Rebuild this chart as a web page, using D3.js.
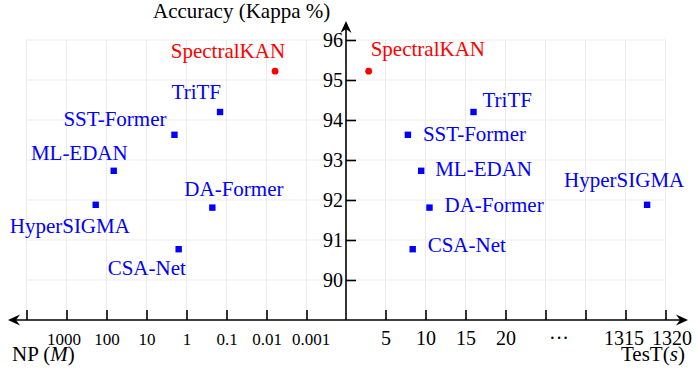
<!DOCTYPE html>
<html>
<head>
<meta charset="utf-8">
<script src="https://cdn.jsdelivr.net/npm/d3@7"></script>
<style>
  body { margin: 0; background: #fff; }
  svg { display: block; font-family: "Liberation Serif", "Times New Roman", serif; }
</style>
</head>
<body>
<div id="chart"></div>
<script>
// data
const models = ["SpectralKAN", "TriTF", "SST-Former", "ML-EDAN", "HyperSIGMA", "DA-Former", "CSA-Net"]
const kappa = [95.22, 94.2, 93.63, 92.73, 91.88, 91.81, 90.77]
const params = [0.0061, 0.145, 2.0, 66, 186, 0.226, 1.57]      // NP (M), log scale
const testTime = [2.9, 16.0, 7.8, 9.46, 1317.7, 10.5, 8.4]       // TesT (s), broken axis
const yTicks = [90, 91, 92, 93, 94, 95, 96]
const npTicks = [10000, 1000, 100, 10, 1, 0.1, 0.01, 0.001]
const npLabels = ["", "1000", "100", "10", "1", "0.1", "0.01", "0.001"]
const ttTicks = [5, 10, 15, 20, 25, 1310, 1315, 1320]
const ttLabels = ["5", "10", "15", "20", "\u00b7\u00b7\u00b7", "", "1315", "1320"]

// label placement next to each point: [dx, dy, anchor]
const leftLab = {
    "SpectralKAN": [10, -13, "end"], "TriTF": [1, -13, "end"], "SST-Former": [-8, -9, "end"],
    "ML-EDAN": [14, -11, "end"], "HyperSIGMA": [-86, 28, "start"], "DA-Former": [-28, -12, "start"],
    "CSA-Net": [-71, 26, "start"]
}
const rightLab = {
    "SpectralKAN": [2, -15, "start"], "TriTF": [9, -5, "start"], "SST-Former": [15, 6, "start"],
    "ML-EDAN": [14, 5, "start"], "HyperSIGMA": [-83, -18, "start"], "DA-Former": [15, 4, "start"],
    "CSA-Net": [15, 3, "start"]
}

const width = 698, height = 375
const serif = "'Liberation Serif', 'Times New Roman', serif"
const svg = d3.select("#chart").append("svg")
    .attr("width", width)
    .attr("height", height)

const y = d3.scaleLinear().domain([89, 96]).range([320, 40])
const xl = d3.scaleLog().domain([10000, 0.0001]).range([26.5, 346.5])
const xr = d3.scaleLinear().domain([0, 25, 1310, 1320]).range([345.5, 545.5, 585.5, 665.5])
const x0 = 346

// grid
const grid = svg.append("g").attr("stroke", "#ebebeb").attr("stroke-width", 1)
grid.selectAll(".hg").data(yTicks).enter().append("line")
    .attr("x1", xl(10000)).attr("x2", xr(1320))
    .attr("y1", d => y(d)).attr("y2", d => y(d))
grid.selectAll(".vl").data(npTicks).enter().append("line")
    .attr("x1", d => xl(d)).attr("x2", d => xl(d))
    .attr("y1", y(96)).attr("y2", y(89))
grid.selectAll(".vr").data(ttTicks).enter().append("line")
    .attr("x1", d => xr(d)).attr("x2", d => xr(d))
    .attr("y1", y(96)).attr("y2", y(89))

// axes
const yAxis = d3.axisLeft(y).tickValues(yTicks).tickSize(-10).tickPadding(3).tickFormat(d3.format("d"))
const gy = svg.append("g").attr("transform", `translate(${x0},0)`).call(yAxis)
gy.select(".domain").remove()
gy.attr("font-family", serif).attr("font-size", 20)
gy.selectAll("text").attr("fill", "#000")

const lAxis = d3.axisBottom(xl).tickValues(npTicks).tickSize(-10)
    .tickFormat((d, i) => npLabels[i])
const gl = svg.append("g").attr("transform", `translate(0,${y(89)})`).call(lAxis)
gl.select(".domain").remove()
gl.attr("font-family", serif).attr("font-size", 17)
gl.selectAll("text").attr("y", 25).attr("dy", 0).attr("fill", "#000")
gl.selectAll("text").filter(d => d === 1000).attr("dx", -3)
gl.selectAll("text").filter(d => d === 0.001).attr("dx", 4)

const rAxis = d3.axisBottom(xr).tickValues(ttTicks).tickSize(-10)
    .tickFormat((d, i) => ttLabels[i])
const gr = svg.append("g").attr("transform", `translate(0,${y(89)})`).call(rAxis)
gr.select(".domain").remove()
gr.attr("font-family", serif).attr("font-size", 20)
gr.selectAll("text").attr("y", 25).attr("dy", 0).attr("fill", "#000")
gr.selectAll("text").filter(d => d === 25).attr("dx", 13)
gr.selectAll("text").filter(d => d === 1320).attr("dx", 6)
gr.selectAll("text").filter(d => d === 1315).attr("dx", -2)

// drop empty tick labels
svg.selectAll(".tick text").filter(function () { return this.textContent === "" }).remove()
svg.selectAll(".tick line").attr("stroke", "#000").attr("stroke-width", 1.6)

// axis lines with arrow heads
const axisLine = svg.append("g").attr("stroke", "#000").attr("stroke-width", 1.6)
axisLine.append("line").attr("x1", 10).attr("x2", 685).attr("y1", y(89)).attr("y2", y(89))
axisLine.append("line").attr("x1", x0).attr("x2", x0).attr("y1", y(89)).attr("y2", 25)
const arrow = "M0,0 L-12,-5.5 L-8,0 L-12,5.5 Z"
svg.append("path").attr("d", arrow).attr("transform", `translate(8,${y(89)}) rotate(180)`)
svg.append("path").attr("d", arrow).attr("transform", `translate(688,${y(89)})`)
svg.append("path").attr("d", arrow).attr("transform", `translate(${x0},21) rotate(-90)`)

// axis titles
svg.append("text").attr("x", 153).attr("y", 18).style("font-size", "21px").text("Accuracy (Kappa %)")
svg.append("text").attr("x", 12).attr("y", 361).style("font-size", "21px")
    .html("NP (<tspan font-style='italic'>M</tspan>)")
svg.append("text").attr("x", 621).attr("y", 361).style("font-size", "21px")
    .html("TesT(<tspan font-style='italic'>s</tspan>)")

// points
const rows = models.map((m, i) => ({ name: m, k: kappa[i], np: params[i], t: testTime[i] }))
const colorOf = d => d.name === "SpectralKAN" ? "#ff0000" : "#0000ff"

function drawPanel(xs, key, lab) {
    const g = svg.append("g")
    g.selectAll("rect").data(rows.filter(d => d.name !== "SpectralKAN")).enter().append("rect")
        .attr("x", d => xs(d[key]) - 3.2).attr("y", d => y(d.k) - 3.2)
        .attr("width", 6.4).attr("height", 6.4)
        .attr("fill", colorOf)
    g.selectAll("circle").data(rows.filter(d => d.name === "SpectralKAN")).enter().append("circle")
        .attr("cx", d => xs(d[key])).attr("cy", d => y(d.k)).attr("r", 3.4)
        .attr("fill", colorOf)
    g.selectAll("text").data(rows).enter().append("text")
        .attr("x", d => xs(d[key]) + lab[d.name][0])
        .attr("y", d => y(d.k) + lab[d.name][1])
        .attr("text-anchor", d => lab[d.name][2])
        .attr("fill", colorOf)
        .style("font-size", "21px")
        .text(d => d.name)
}
drawPanel(xl, "np", leftLab)
drawPanel(xr, "t", rightLab)
</script>
</body>
</html>
